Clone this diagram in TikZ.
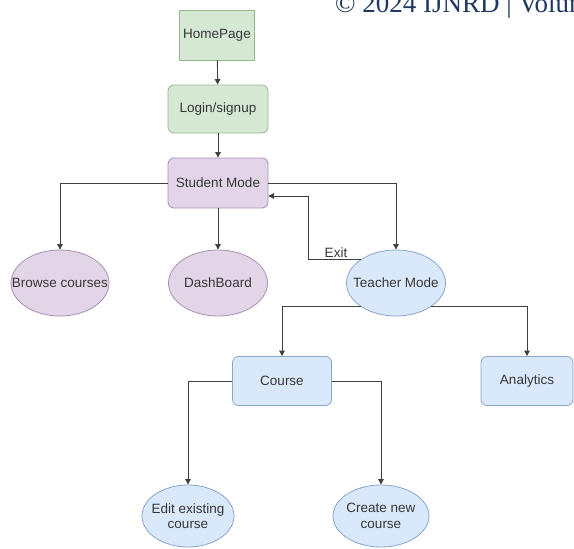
\documentclass[tikz,border=0pt]{standalone}
\usepackage{fontspec}
\setmainfont{Liberation Sans}
\newfontfamily\headfont{Liberation Serif}
\usetikzlibrary{positioning,arrows.meta,shapes.geometric}
\definecolor{fcGreenFill}{RGB}{213,232,212}
\definecolor{fcGreenLine}{RGB}{150,185,140}
\definecolor{fcPurpleFill}{RGB}{225,213,231}
\definecolor{fcPurpleLine}{RGB}{170,145,180}
\definecolor{fcBlueFill}{RGB}{218,232,252}
\definecolor{fcBlueLine}{RGB}{140,165,205}
\definecolor{fcText}{RGB}{55,55,55}
\definecolor{fcHead}{RGB}{31,56,100}

\begin{document}
\begin{tikzpicture}[x=1pt, y=-1pt,
  every node/.style={font=\fontsize{13.5}{15.5}\selectfont, text=fcText},
  box/.style={draw, line width=0.8pt, rounded corners=6pt, minimum width=100pt, minimum height=49pt},
  oval/.style={draw, line width=0.8pt, ellipse, minimum width=99pt, minimum height=66pt, inner xsep=-15pt, inner ysep=0pt, align=center},
  green/.style={fill=fcGreenFill, draw=fcGreenLine},
  purple/.style={fill=fcPurpleFill, draw=fcPurpleLine},
  blue/.style={fill=fcBlueFill, draw=fcBlueLine},
  link/.style={draw=black!75, line width=0.9pt, -{Triangle[width=5.5pt,length=5.5pt]}}]
  \useasboundingbox (0,0) rectangle (574,549);

  % Header of the page (cut at the top)
  \node[anchor=base west, inner sep=0pt, text=fcHead, font=\headfont\fontsize{27}{30}\selectfont] (header) at (335,12) {© 2024 IJNRD | Volume};

  % Entry
  \node[box, green, rounded corners=0pt, minimum width=71pt, minimum height=50pt] (home) at (217,35) {HomePage};
  \node[box, green, minimum height=48pt] (login) at (218,109) {Login/signup};
  \node[box, purple, minimum height=50pt] (student) at (218,183) {Student Mode};

  % Student side
  \node[oval, purple, minimum width=98pt] (browse) at (60,283) {Browse courses};
  \node[oval, purple] (dash) at (218,283) {DashBoard};

  % Teacher side
  \node[oval, blue] (teacher) at (396,283) {Teacher Mode};
  \node[box, blue, minimum width=99pt] (course) at (282,381) {Course};
  \node[box, blue, minimum width=92pt] (analytics) at (527,381) {Analytics};
  \node[oval, blue, minimum width=92pt, minimum height=62pt] (edit) at (188,516) {Edit existing\\course};
  \node[oval, blue, minimum width=96pt, minimum height=62pt] (create) at (381,516) {Create new\\course};

  % Connectors
  \draw[link] (home) -- (login);
  \draw[link] (login) -- (student);
  \draw[link] (student.west) -| (browse.north);
  \draw[link] (student) -- (dash);
  \draw[link] (student.east) -| (teacher.north);
  \coordinate (exitturn) at (308,196);
  \draw[link] (teacher.north west) -| (exitturn) -- (exitturn -| student.east);
  \node[anchor=base] (exitlabel) at (336,257) {Exit};
  \draw[link] (teacher.south west) -| (course.north);
  \draw[link] (teacher.south east) -| (analytics.north);
  \draw[link] (course.west) -| (edit.north);
  \draw[link] (course.east) -| (create.north);
\end{tikzpicture}
\end{document}
